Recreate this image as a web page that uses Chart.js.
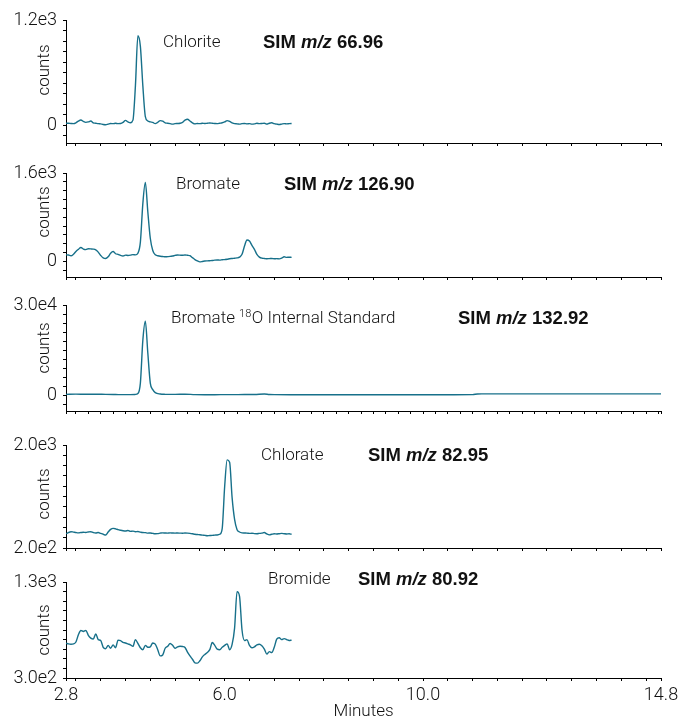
<!DOCTYPE html>
<html>
<head>
<meta charset="utf-8">
<script src="https://cdn.jsdelivr.net/npm/chart.js@4.4.1/dist/chart.umd.min.js"></script>
<style>
html,body{margin:0;padding:0;background:#fff;}
body{width:688px;height:724px;position:relative;overflow:hidden;}
canvas{position:absolute;left:0;}
</style>
</head>
<body>
<script>
// ---------- DATA ----------
const timeShort = [2.80,2.85,2.90,2.95,3.00,3.05,3.10,3.15,3.20,3.25,
  3.30,3.35,3.40,3.45,3.50,3.55,3.60,3.65,3.70,3.75,
  3.80,3.85,3.90,3.95,4.00,4.05,4.10,4.15,4.20,4.25,
  4.30,4.35,4.40,4.45,4.50,4.55,4.60,4.65,4.70,4.75,
  4.80,4.85,4.90,4.95,5.00,5.05,5.10,5.15,5.20,5.25,
  5.30,5.35,5.40,5.45,5.50,5.55,5.60,5.65,5.70,5.75,
  5.80,5.85,5.90,5.95,6.00,6.05,6.10,6.15,6.20,6.25,
  6.30,6.35,6.40,6.45,6.50,6.55,6.60,6.65,6.70,6.75,
  6.80,6.85,6.90,6.95,7.00,7.05,7.10,7.15,7.20,7.25,
  7.30,7.35];

const chloriteCounts = [25,25,22,20,30,50,62,45,35,40,
  50,30,25,20,18,10,8,15,22,20,
  25,20,22,35,58,40,30,60,450,1020,
  900,450,100,50,40,35,20,35,55,50,
  30,25,20,15,20,22,25,35,60,70,
  50,30,18,22,20,25,22,25,28,25,
  22,20,25,30,40,55,45,30,20,18,
  15,20,22,18,20,15,18,25,20,22,
  25,15,25,30,20,15,10,15,20,18,
  20,22];

const bromateCounts = [121,118,103,130,181,220,254,225,215,230,
  228,224,210,170,110,65,54,85,150,181,
  140,130,110,100,115,110,115,125,120,150,
  350,1050,1431,900,420,200,120,105,95,90,
  85,88,92,100,110,118,115,112,118,112,
  105,70,35,10,-6,0,8,12,15,18,
  25,28,25,32,35,40,50,55,60,65,
  80,130,280,390,370,290,220,130,80,60,
  55,50,52,55,50,52,48,60,85,75,
  78,75];

const chlorateCounts = [450,470,485,478,470,465,470,475,472,480,
  485,470,462,470,455,440,427,480,525,543,
  535,520,510,502,498,505,490,495,485,488,
  478,470,468,460,462,455,450,452,460,465,
  462,460,465,462,460,462,460,458,462,460,
  455,448,440,435,432,425,420,415,418,420,
  425,428,440,540,1275,1740,1700,1080,700,520,
  480,465,462,460,455,458,452,450,455,460,
  470,445,430,440,448,445,450,455,450,445,
  448,440];

const bromideCounts = [662,655,652,655,675,750,795,785,795,745,
  715,705,760,700,690,620,605,640,610,645,
  615,695,690,670,665,655,645,630,700,660,
  615,595,640,620,625,665,652,595,530,540,
  610,630,660,640,610,625,630,628,618,570,
  530,495,458,455,480,520,545,565,595,670,
  640,600,595,620,640,655,595,650,820,1200,
  1150,800,690,700,640,615,625,645,652,635,
  600,550,575,565,620,705,720,700,710,700,
  690,695];

const internalStdTime = [2.8,3.0,3.2,3.4,3.6,3.8,4.0,4.1,4.2,4.25,
  4.3,4.35,4.4,4.45,4.5,4.55,4.6,4.7,4.8,5.0,
  5.2,5.4,5.6,5.8,6.0,6.2,6.4,6.6,6.8,6.9,
  7.0,7.4,7.8,8.2,8.6,9.0,9.4,9.8,10.2,10.6,
  11.0,11.1,11.2,11.6,12.0,12.4,12.8,13.2,13.6,14.0,
  14.4,14.8];
const internalStdCounts = [250,320,280,300,220,180,150,160,220,500,
  4000,18300,24600,14000,4000,1800,800,350,250,220,
  300,160,130,130,150,160,170,180,350,180,
  140,130,120,120,120,125,120,120,120,125,
  150,380,400,410,400,405,400,410,400,405,
  400,400];

const compoundNames = ['Chlorite', 'Bromate', 'Bromate \u00B9\u2078O Internal Standard', 'Chlorate', 'Bromide'];
const simMasses = ['66.96', '126.90', '132.92', '82.95', '80.92'];
const yTickValues = [[0, 1200], [0, 1600], [0, 30000], [200, 2000], [300, 1300]];
const yTickLabels = [['0', '1.2e3'], ['0', '1.6e3'], ['0', '3.0e4'], ['2.0e2', '2.0e3'], ['3.0e2', '1.3e3']];
const xTickValuesLabelled = [2.8, 6.0, 10.0, 14.8];
const xTickLabels = ['2.8', '6.0', '10.0', '14.8'];
const xAxisTitle = 'Minutes';
const yAxisTitle = 'counts';

// ---------- STYLE / LAYOUT ----------
const LIGHT = "Roboto, 'Liberation Sans', Arial, sans-serif";
const BOLDFAM = "'Liberation Sans', Arial, sans-serif";
const TRACE = '#17708a';
const INK = '#111111';
const FS = 17;

const panels = [
  {times: timeShort, counts: chloriteCounts, top: 0, height: 150, areaTop: 20, areaBottom: 143, xAxisH: 7,
   min: -200, max: 1200, yStart: -120, yStep: 120, xStep: 0.5, nameX: 163, simX: 263, textY: 43, countsY: 70},
  {times: timeShort, counts: bromateCounts, top: 150, height: 135, areaTop: 173, areaBottom: 277, xAxisH: 7,
   min: -280, max: 1600, yStart: -160, yStep: 160, xStep: 0.5, nameX: 176, simX: 284, textY: 185, countsY: 212},
  {times: internalStdTime, counts: internalStdCounts, top: 285, height: 135, areaTop: 305, areaBottom: 411, xAxisH: 7,
   min: -5300, max: 30000, yStart: -3000, yStep: 3000, xStep: 0.25, nameX: 171, simX: 458, textY: 319, countsY: 348},
  {times: timeShort, counts: chlorateCounts, top: 420, height: 136, areaTop: 445, areaBottom: 548, xAxisH: 7,
   min: 200, max: 2000, yStart: 200, yStep: 180, xStep: 0.5, nameX: 261, simX: 368, textY: 456, countsY: 494},
  {times: timeShort, counts: bromideCounts, top: 556, height: 168, areaTop: 582, areaBottom: 678, xAxisH: 46,
   min: 300, max: 1300, yStart: 300, yStep: 100, xStep: 0.5, nameX: 268, simX: 358, textY: 580, countsY: 630, showX: true}
];

const SUP = {'\u2070':'0','\u00B9':'1','\u00B2':'2','\u00B3':'3','\u2074':'4','\u2075':'5','\u2076':'6','\u2077':'7','\u2078':'8','\u2079':'9'};

const textPlugin = {
  id: 'panelText',
  afterDraw(chart, args, o) {
    const ctx = chart.ctx;
    ctx.save();
    ctx.fillStyle = INK;
    ctx.textBaseline = 'middle';
    ctx.textAlign = 'left';
    let x = o.nameX;
    const y = o.textY;
    let buf = '', sup = false;
    const flush = () => {
      if (!buf) return;
      ctx.font = sup ? `300 11px ${LIGHT}` : `300 ${FS}px ${LIGHT}`;
      ctx.fillText(buf, x, sup ? y - 5 : y);
      x += ctx.measureText(buf).width + (sup ? 0.5 : 0);
      buf = '';
    };
    for (const ch of o.name) {
      const isSup = ch in SUP;
      if (isSup !== sup) { flush(); sup = isSup; }
      buf += isSup ? SUP[ch] : ch;
    }
    flush();
    let sx = o.simX;
    const segs = [['SIM ', 'bold'], ['m/z', 'italic bold'], [' ' + o.sim, 'bold']];
    for (const [t, st] of segs) {
      ctx.font = `${st} 18.5px ${BOLDFAM}`;
      ctx.fillText(t, sx, y);
      sx += ctx.measureText(t).width;
    }
    ctx.translate(45, o.countsY);
    ctx.rotate(-Math.PI / 2);
    ctx.textAlign = 'center';
    ctx.font = `300 ${FS}px ${LIGHT}`;
    ctx.fillText(yAxisTitle, 0, 0);
    ctx.restore();
  }
};

panels.forEach((p, i) => {
  const cv = document.createElement('canvas');
  cv.width = 688; cv.height = p.height;
  cv.style.top = p.top + 'px';
  document.body.appendChild(cv);
  const padTop = p.areaTop - p.top;
  const padBottom = p.top + p.height - p.areaBottom - p.xAxisH;
  const rel = (v) => v - p.top;
  const yLab = {};
  yTickValues[i].forEach((v, k) => { yLab[v] = yTickLabels[i][k]; });
  const xLab = {};
  xTickValuesLabelled.forEach((v, k) => { xLab[v.toFixed(2)] = xTickLabels[k]; });

  new Chart(cv, {
    type: 'line',
    data: {
      datasets: [{
        data: p.times.map((t, k) => ({x: t, y: p.counts[k]})),
        borderColor: TRACE,
        borderWidth: 1.4,
        pointRadius: 0,
        fill: false,
        cubicInterpolationMode: 'monotone'
      }]
    },
    options: {
      responsive: false,
      animation: false,
      events: [],
      layout: {padding: {left: 0, right: 27, top: padTop, bottom: padBottom}},
      plugins: {
        legend: {display: false},
        tooltip: {enabled: false},
        panelText: {name: compoundNames[i], sim: simMasses[i], nameX: p.nameX, simX: p.simX,
                    textY: rel(p.textY), countsY: rel(p.countsY)}
      },
      scales: {
        x: {
          type: 'linear', min: 2.8, max: 14.8,
          afterBuildTicks: (s) => {
            const t = [2.8];
            for (let v = 3.0; v < 14.79; v += p.xStep) t.push(Math.round(v * 100) / 100);
            t.push(14.8);
            s.ticks = t.map(v => ({value: v}));
          },
          afterFit: (s) => { s.height = p.xAxisH; s.paddingLeft = 0; s.paddingRight = 0; },
          grid: {drawOnChartArea: false, drawTicks: true, tickLength: 3, color: '#000', lineWidth: 1},
          border: {display: true, color: '#000', width: 1},
          ticks: {
            autoSkip: false, maxRotation: 0, minRotation: 0, padding: 4,
            color: INK, font: {family: LIGHT, size: FS + 1, weight: 300},
            callback: (v) => p.showX ? (xLab[Number(v).toFixed(2)] || '') : ''
          },
          title: p.showX ? {display: true, text: xAxisTitle, color: INK, font: {family: LIGHT, size: FS, weight: 300}, padding: {top: 0, bottom: 2}} : {display: false}
        },
        y: {
          type: 'linear', min: p.min, max: p.max,
          afterBuildTicks: (s) => {
            const t = [];
            for (let v = p.yStart; v <= p.max + 1e-6; v += p.yStep) t.push(Math.round(v));
            s.ticks = t.map(v => ({value: v}));
          },
          afterFit: (s) => { s.width = 66; s.paddingTop = 0; s.paddingBottom = 0; },
          grid: {drawOnChartArea: false, drawTicks: true, tickLength: 3, color: '#000', lineWidth: 1},
          border: {display: true, color: '#000', width: 1},
          ticks: {
            autoSkip: false, padding: 6, color: INK, font: {family: LIGHT, size: FS + 1, weight: 300},
            callback: (v) => (yLab[v] !== undefined ? yLab[v] : '')
          }
        }
      }
    },
    plugins: [textPlugin]
  });
});
</script>
</body>
</html>
